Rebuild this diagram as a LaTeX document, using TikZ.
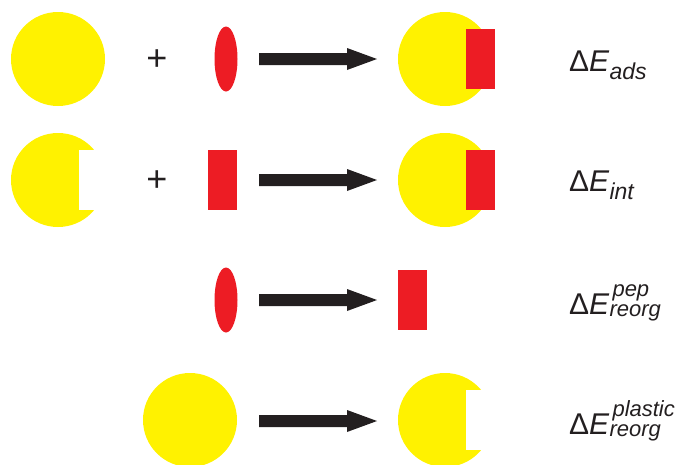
\documentclass[tikz,border=0pt]{standalone}
\usepackage{fontspec}
\setmainfont{Liberation Sans}
\usetikzlibrary{shapes.geometric,calc}
\definecolor{yel}{HTML}{FFF200}
\definecolor{rd}{HTML}{ED1C24}
\definecolor{blk}{HTML}{231F20}
\newcommand{\subfA}{\fontsize{23}{23}\selectfont\itshape}
\newcommand{\subfB}{\fontsize{22}{22}\selectfont\itshape}
\newcommand{\DEone}[1]{Δ\textit{E}\raisebox{-8pt}{\subfA #1}}
\newcommand{\DEtwo}[2]{Δ\textit{E}\rlap{\hspace{3pt}\raisebox{18pt}{\subfB #1}}\raisebox{-2.5pt}{\subfB #2}}
\begin{document}
\begin{tikzpicture}[x=1pt,y=-1pt,
  ball/.style={circle, fill=yel, minimum size=94pt, inner sep=0pt, outer sep=0pt},
  pepshape/.style={ellipse, fill=rd, minimum width=23pt, minimum height=65pt, inner sep=0pt},
  blockr/.style={rectangle, fill=rd, minimum width=29pt, minimum height=60pt, inner sep=0pt},
  notch/.style={rectangle, fill=white, minimum width=29pt, minimum height=60pt, inner sep=0pt},
  plussign/.style={font=\fontsize{36}{36}\selectfont, text=blk, inner sep=0pt},
  lbl/.style={anchor=base west, inner sep=0pt, text=blk, font=\fontsize{30}{30}\selectfont}]
\useasboundingbox (0,0) rectangle (680,464);

% row 1
\node[ball] (b1) at (58,59) {};
\node[plussign] (p1) at (157,60.5) {+};
\node[pepshape] (e1) at (226,59) {};
\node[ball] (b1r) at (445,59) {};
\node[blockr] (r1r) at ($(b1r.center)+(35.5,0)$) {};
\node[lbl] (l1) at (569,71.7) {\DEone{ads}};

% row 2
\node[ball] (b2) at (58,180) {};
\node[notch] (n2) at ($(b2.center)+(35.5,0)$) {};
\node[plussign] (p2) at (157,181) {+};
\node[blockr] (r2) at (222.5,180) {};
\node[ball] (b2r) at (445,180) {};
\node[blockr] (r2r) at ($(b2r.center)+(35.5,0)$) {};
\node[lbl] (l2) at (569,191.7) {\DEone{int}};

% row 3
\node[pepshape] (e3) at (226,300) {};
\node[blockr] (r3) at (412.5,300) {};
\node[lbl] (l3) at (569,314.3) {\DEtwo{pep}{reorg}};

% row 4
\node[ball] (b4) at (190,420) {};
\node[ball] (b4r) at (445,420) {};
\node[notch] (n4) at ($(b4r.center)+(35.5,0)$) {};
\node[lbl] (l4) at (569,434.3) {\DEtwo{plastic}{reorg}};

% arrows
\foreach \i/\yy in {1/59,2/180,3/300,4/421}{
  \coordinate (as\i) at (259,\yy);
  \coordinate (ae\i) at (377,\yy);
  \fill[blk] ($(as\i)+(0,-6)$) -- ($(ae\i)+(-30,-6)$) -- ($(ae\i)+(-30,-11)$) -- (ae\i)
    -- ($(ae\i)+(-30,11)$) -- ($(ae\i)+(-30,6)$) -- ($(as\i)+(0,6)$) -- cycle;
}
\end{tikzpicture}
\end{document}
